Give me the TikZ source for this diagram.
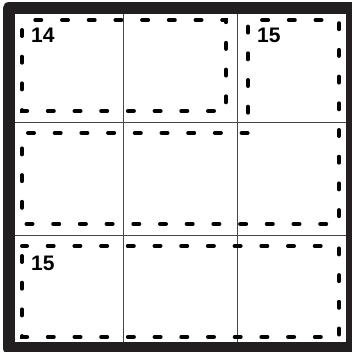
\documentclass[tikz,border=0pt]{standalone}
\usepackage{fontspec}
\setsansfont{Liberation Sans}
\usetikzlibrary{positioning}
\definecolor{framegray}{RGB}{35,31,32}
\definecolor{gridgray}{RGB}{70,70,70}

\begin{document}
\begin{tikzpicture}[
        x=1pt, y=-1pt,
        gridline/.style={gridgray, line width=0.9pt},
        frame/.style={framegray, line width=12pt, line join=round},
        cage/.style={black, line width=4pt, line cap=round, dash pattern=on 6pt off 20.7pt, dash phase=16.7pt},
        sumlabel/.style={anchor=north west, inner sep=0pt, font=\sffamily\bfseries\fontsize{21}{21}\selectfont}
    ]
        \useasboundingbox (0,0) rectangle (351,352);
        \fill[white] (0,0) rectangle (351,352);

        % Grid
        \draw[gridline] (123.5,14) -- (123.5,342);
        \draw[gridline] (237,14) -- (237,342);
        \draw[gridline] (14,122) -- (346,122);
        \draw[gridline] (14,235.5) -- (346,235.5);

        % Frame
        \draw[frame] (8.5,8.5) rectangle (352,348);

        % Cages
        \draw[cage] (22,20) rectangle (226,111);
        \draw[cage, dash phase=20.7pt] (22,133) -- (248,133) -- (248,20) -- (339,20)
            -- (339,224) -- (22,224) -- cycle;
        \draw[cage] (22,246) rectangle (339,337);

        % Sums
        \node[sumlabel] (sum14) at (31,28) {14};
        \node[sumlabel] (sum15a) at (257,28) {15};
        \node[sumlabel] (sum15b) at (31,256) {15};

    \end{tikzpicture}
\end{document}
